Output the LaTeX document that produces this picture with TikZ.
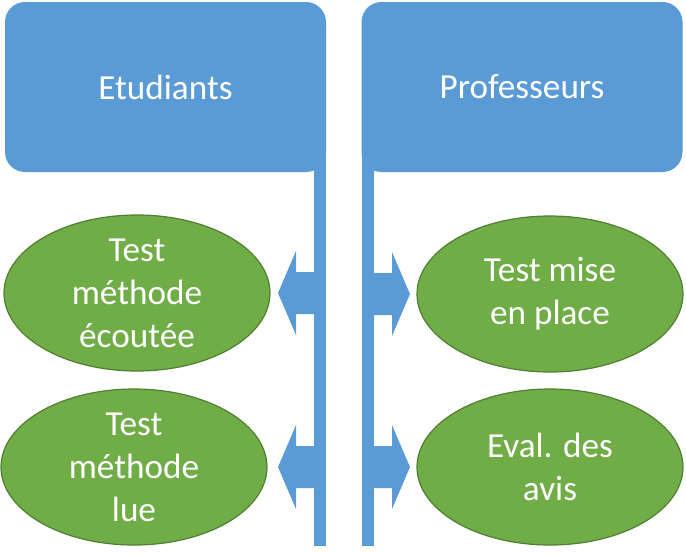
\documentclass[tikz,border=0pt]{standalone}
\usepackage{fontspec}
\setmainfont{Carlito}
\usetikzlibrary{shapes.geometric}
\definecolor{boxblue}{HTML}{5B9BD5}
\definecolor{leafgreen}{HTML}{70AD47}
\definecolor{leafedge}{HTML}{507E32}

\begin{document}
\begin{tikzpicture}[x=0.5pt,y=-0.5pt,
  head/.style={fill=boxblue,rounded corners=10pt,minimum width=160.5pt,minimum height=85pt,inner sep=0pt,text=white,font=\fontsize{17.6}{21.5}\selectfont},
  bar/.style={fill=boxblue,minimum width=6pt,minimum height=198pt,inner sep=0pt},
  leaf/.style={ellipse,fill=leafgreen,draw=leafedge,line width=0.6pt,minimum width=133pt,minimum height=78pt,inner xsep=0pt,inner ysep=-10pt,align=center,text=white,font=\fontsize{17.6}{21.5}\selectfont}]
\useasboundingbox (0,0) rectangle (686,553);
\node[bar] (barL) at (320,348) {};
\node[bar] (barR) at (368,348) {};
\node[head] (etud) at (165.5,87) {Etudiants};
\node[head] (prof) at (522,87) {Professeurs};
\node[leaf] (ecoute) at (137,293) {Test\\méthode\\écoutée};
\node[leaf] (lue) at (134,467) {Test\\méthode\\lue};
\node[leaf] (place) at (550,294) {Test mise\\en place};
\node[leaf] (avis) at (550,467) {Eval. des\\avis};
\foreach \b/\e/\s in {barL/ecoute/1, barL/lue/1, barR/place/-1, barR/avis/-1}{
  \fill[boxblue] (\b |- \e) ++(0,-21) -- ++(\s*-24,0) -- ++(0,-21) -- ++(\s*-18,42) -- ++(\s*18,42) -- ++(0,-21) -- ++(\s*24,0) -- cycle;
}
\end{tikzpicture}
\end{document}
